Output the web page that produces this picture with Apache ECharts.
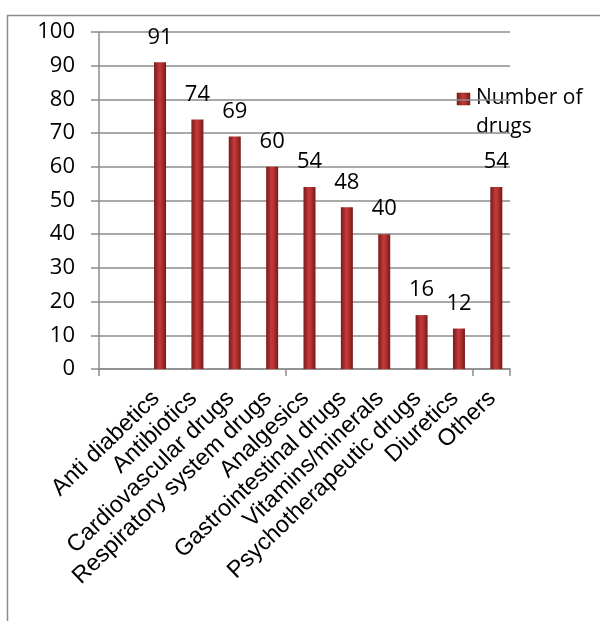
<!DOCTYPE html>
<html>
<head>
<meta charset="utf-8">
<script src="https://cdn.jsdelivr.net/npm/echarts@6/dist/echarts.min.js"></script>
<style>
html,body{margin:0;padding:0;background:#fff;}
#chart{width:600px;height:621px;}
</style>
</head>
<body>
<div id="chart"></div>
<script>
var categories = ["", "Anti diabetics", "Antibiotics", "Cardiovascular drugs", "Respiratory system drugs", "Analgesics", "Gastrointestinal drugs", "Vitamins/minerals", "Psychotherapeutic drugs", "Diuretics", "Others"];
var numberOfDrugs = [null, 91, 74, 69, 60, 54, 48, 40, 16, 12, 54];
var seriesName = "Number of drugs";
var legendLines = ["Number of", "drugs"];
var yTicks = {min: 0, max: 100, interval: 10};

var chart = echarts.init(document.getElementById('chart'), null, {renderer: 'canvas'});
function barGradient() {
  return new echarts.graphic.LinearGradient(0, 0, 1, 0, [
    {offset: 0, color: '#7a1a1a'},
    {offset: 0.45, color: '#c23a3a'},
    {offset: 0.6, color: '#b83434'},
    {offset: 1, color: '#781818'}
  ]);
}
var gray = '#8c8c8c';
var hiddenY = function (idx) {
  return {type: 'value', gridIndex: idx, min: yTicks.min, max: yTicks.max, interval: yTicks.interval,
    show: false, splitLine: {show: false}};
};
chart.setOption({
  animation: false,
  backgroundColor: '#ffffff',
  graphic: [
    {type: 'rect', left: 5, top: 13, shape: {width: 620, height: 640},
      style: {fill: 'none', stroke: gray, lineWidth: 1.5}, silent: true},
    {type: 'rect', x: 457, y: 93, shape: {width: 13, height: 12},
      style: {fill: barGradient(), stroke: '#7a1a1a', lineWidth: 0.5}, silent: true},
    {type: 'text', x: 476, y: 84,
      style: {text: legendLines.join('\n'), fontFamily: 'Open Sans', fontSize: 21, lineHeight: 29,
        fill: '#000', align: 'left', verticalAlign: 'top'}, silent: true}
  ],
  grid: [
    {left: 99, right: 90, top: 32, bottom: 252},
    {left: 104, right: 85, top: 32, bottom: 252},
    {left: 100, right: 89, top: 32, bottom: 252}
  ],
  xAxis: [
    {
      type: 'category', gridIndex: 0, data: categories,
      axisLine: {lineStyle: {color: gray, width: 1.5}},
      axisTick: {show: true, length: 7, lineStyle: {color: gray, width: 1.5}},
      axisLabel: {show: false}
    },
    {type: 'category', gridIndex: 1, data: categories, show: false},
    {
      type: 'category', gridIndex: 2, data: categories,
      axisLine: {show: false}, axisTick: {show: false},
      axisLabel: {interval: 0, rotate: 44, margin: 26,
        fontFamily: 'Liberation Sans', fontSize: 23.5, color: '#000'}
    }
  ],
  yAxis: [
    {
      type: 'value', gridIndex: 0,
      min: yTicks.min, max: yTicks.max, interval: yTicks.interval,
      axisLine: {show: true, lineStyle: {color: gray, width: 1.5}},
      axisTick: {show: true, length: 8, lineStyle: {color: gray, width: 1.5}},
      splitLine: {lineStyle: {color: gray, width: 1.5}},
      axisLabel: {margin: 24, fontFamily: 'Open Sans', fontSize: 22, color: '#000'}
    },
    hiddenY(1),
    hiddenY(2)
  ],
  series: [{
    name: seriesName,
    type: 'bar',
    xAxisIndex: 1, yAxisIndex: 1,
    data: numberOfDrugs,
    barWidth: 12,
    itemStyle: {color: barGradient()},
    label: {
      show: true, position: 'top', distance: 14,
      fontFamily: 'Open Sans', fontSize: 22, color: '#000'
    }
  }]
});
</script>
</body>
</html>
